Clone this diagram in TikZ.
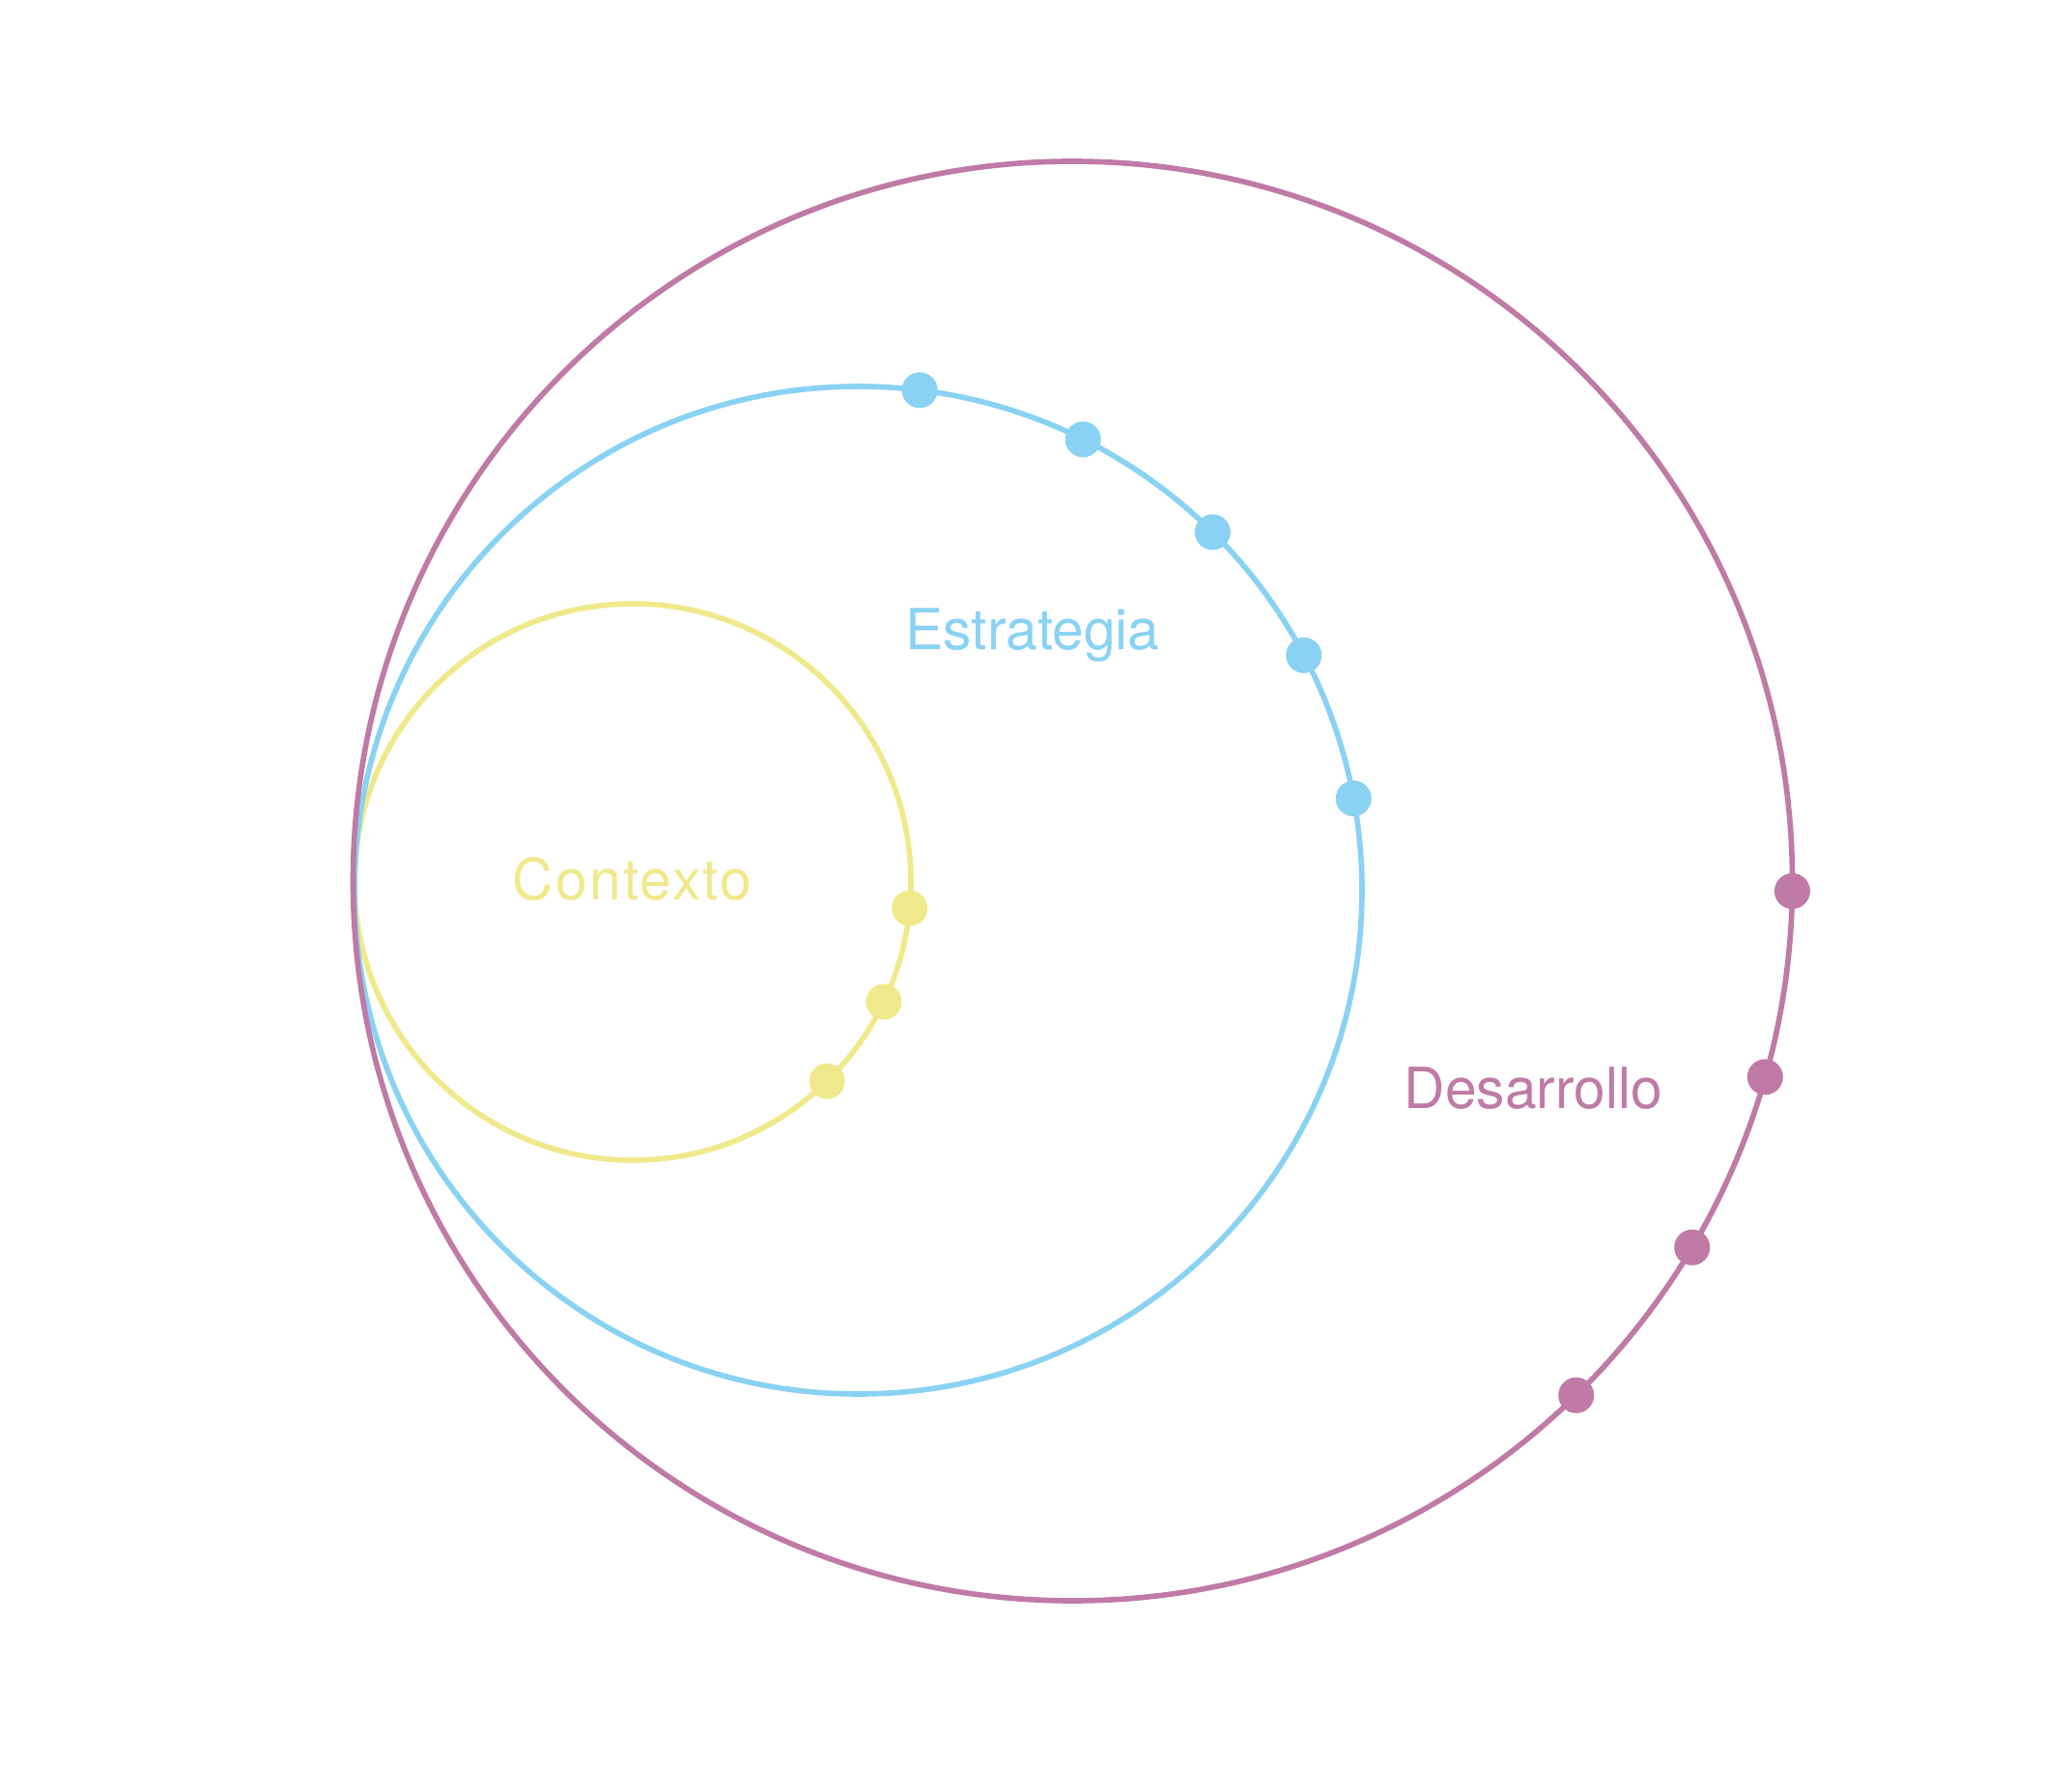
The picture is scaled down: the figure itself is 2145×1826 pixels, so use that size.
\documentclass[tikz,border=0pt]{standalone}
\usepackage{fontspec}
\setmainfont{TeX Gyre Heros}
\definecolor{contexto}{RGB}{240,233,140}
\definecolor{estrategia}{RGB}{137,210,243}
\definecolor{desarrollo}{RGB}{191,122,166}
\begin{document}
\begin{tikzpicture}[x=0.01cm, y=0.01cm,
  anillo/.style={line width=1.6pt},
  punto/.style={circle, inner sep=0pt, minimum size=0.37cm},
  etiqueta/.style={anchor=base, inner sep=0pt, font=\fontsize{16.7}{20}\selectfont}]
\useasboundingbox (0,0) rectangle (2145,1826);
\coordinate (cC) at (655,913);
\coordinate (cE) at (888.5,904.5);
\coordinate (cD) at (1110.5,914);
% circulos
\draw[anillo, contexto] (cC) circle[radius=288];
\draw[anillo, estrategia] (cE) circle[radius=521.5];
\draw[anillo, desarrollo] (cD) circle[radius=745];
% puntos
\node[punto, fill=contexto] (c1) at ([shift={(-5.4:288)}]cC) {};
\node[punto, fill=contexto] (c2) at ([shift={(-25.5:288)}]cC) {};
\node[punto, fill=contexto] (c3) at ([shift={(-45.7:288)}]cC) {};
\node[punto, fill=estrategia] (e1) at ([shift={(83:521.5)}]cE) {};
\node[punto, fill=estrategia] (e2) at ([shift={(63.5:521.5)}]cE) {};
\node[punto, fill=estrategia] (e3) at ([shift={(45.3:521.5)}]cE) {};
\node[punto, fill=estrategia] (e4) at ([shift={(27.8:521.5)}]cE) {};
\node[punto, fill=estrategia] (e5) at ([shift={(10.5:521.5)}]cE) {};
\node[punto, fill=desarrollo] (d1) at ([shift={(-0.8:745)}]cD) {};
\node[punto, fill=desarrollo] (d2) at ([shift={(-15.8:745)}]cD) {};
\node[punto, fill=desarrollo] (d3) at ([shift={(-30.6:745)}]cD) {};
\node[punto, fill=desarrollo] (d4) at ([shift={(-45.6:745)}]cD) {};
% etiquetas
\node[etiqueta, text=contexto] (tC) at (654.5,894) {\addfontfeatures{LetterSpace=3.7}Contexto};
\node[etiqueta, text=estrategia] (tE) at (1069,1153) {Estrategia};
\node[etiqueta, text=desarrollo] (tD) at (1587.5,679) {Desarrollo};
\end{tikzpicture}
\end{document}
